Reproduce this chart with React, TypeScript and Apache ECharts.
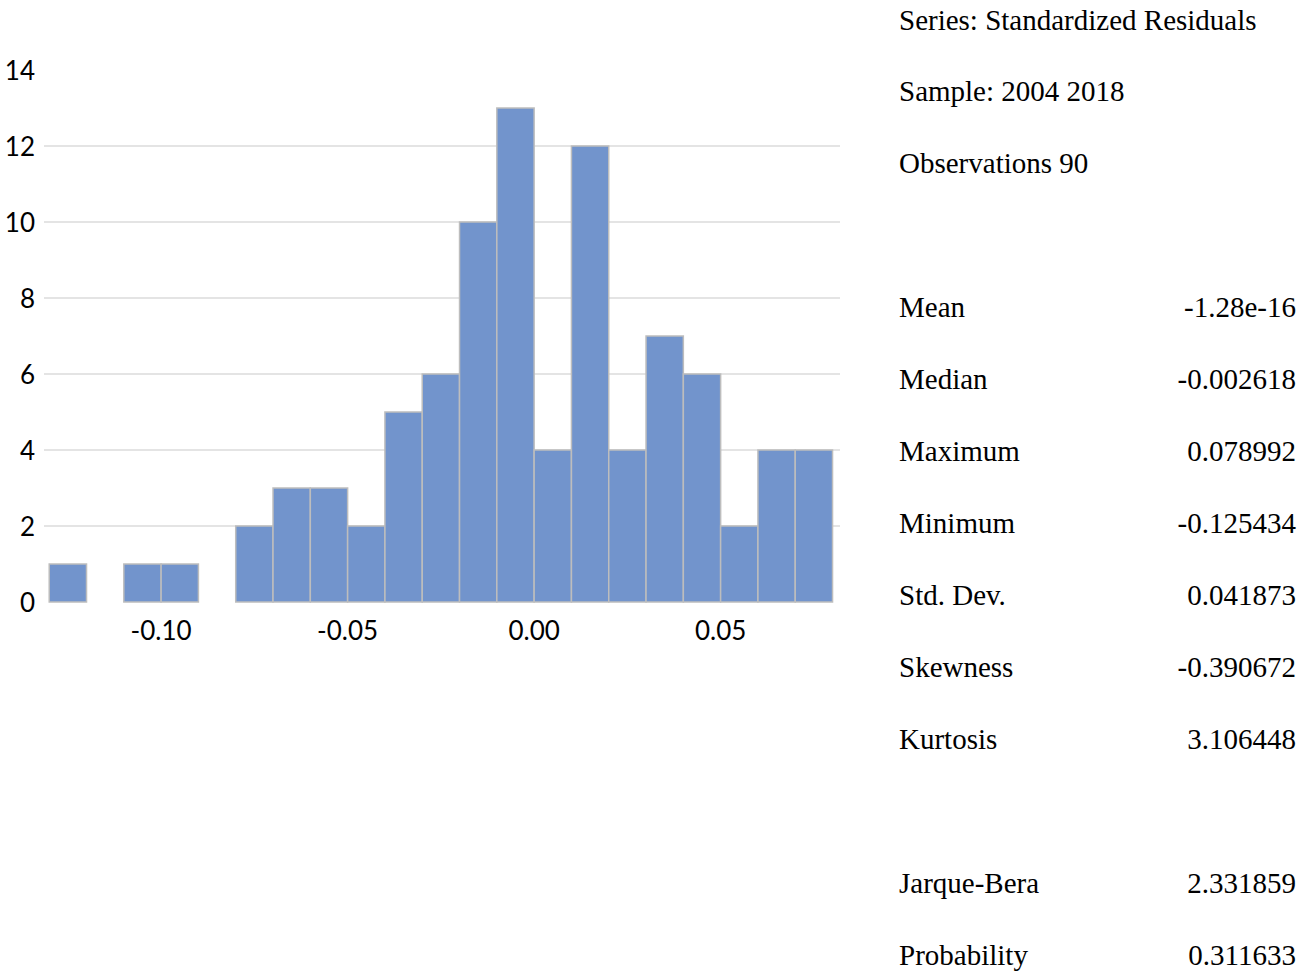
import React, { useEffect, useRef } from "react";
import * as echarts from "echarts";

const binStarts = [-0.13, -0.12, -0.11, -0.10, -0.09, -0.08, -0.07, -0.06, -0.05, -0.04, -0.03, -0.02, -0.01, 0.00, 0.01, 0.02, 0.03, 0.04, 0.05, 0.06, 0.07];
const binEnds = [-0.12, -0.11, -0.10, -0.09, -0.08, -0.07, -0.06, -0.05, -0.04, -0.03, -0.02, -0.01, 0.00, 0.01, 0.02, 0.03, 0.04, 0.05, 0.06, 0.07, 0.08];
const counts = [1, 0, 1, 1, 0, 2, 3, 3, 2, 5, 6, 10, 13, 4, 12, 4, 7, 6, 2, 4, 4];
const xTickValues = [-0.1, -0.05, 0, 0.05];

const headerLines = ["Series: Standardized Residuals", "Sample: 2004 2018", "Observations 90"];
const statLabels = ["Mean", "Median", "Maximum", "Minimum", "Std. Dev.", "Skewness", "Kurtosis"];
const statValues = ["-1.28e-16", "-0.002618", "0.078992", "-0.125434", "0.041873", "-0.390672", "3.106448"];
const testLabels = ["Jarque-Bera", "Probability"];
const testValues = ["2.331859", "0.311633"];

const serif = "'Liberation Serif', 'Times New Roman', serif";
const sans = "Lato, 'Liberation Sans', sans-serif";

export default function App() {
  const ref = useRef<HTMLDivElement>(null);
  useEffect(() => {
    document.body.style.margin = "0";
    const chart = echarts.init(ref.current!, null, { renderer: "svg" });
    const data = binStarts.map((s, i) => [s, binEnds[i], counts[i]]);

    const graphics: any[] = [];
    const textStyle = (text: string, x: number, y: number, align: string) => ({
      type: "text",
      x,
      y,
      style: {
        text,
        fill: "#000",
        font: `29px ${serif}`,
        textAlign: align,
        textVerticalAlign: "middle",
      },
    });
    const hY = [20, 91, 163];
    headerLines.forEach((t, i) => graphics.push(textStyle(t, 899, hY[i], "left")));
    const sY = [307, 379, 451, 523, 595, 667, 739];
    statLabels.forEach((t, i) => {
      graphics.push(textStyle(t, 899, sY[i], "left"));
      graphics.push(textStyle(statValues[i], 1296, sY[i], "right"));
    });
    const tY = [883, 955];
    testLabels.forEach((t, i) => {
      graphics.push(textStyle(t, 899, tY[i], "left"));
      graphics.push(textStyle(testValues[i], 1296, tY[i], "right"));
    });

    chart.setOption({
      animation: false,
      grid: { left: 44, right: 475, top: 70, bottom: 371, containLabel: false },
      xAxis: {
        type: "value",
        min: -0.1314,
        max: 0.082,
        axisLine: { show: false },
        axisTick: { show: false },
        splitLine: { show: false },
        axisLabel: {
          customValues: xTickValues,
          formatter: (v: number) => v.toFixed(2),
          fontFamily: sans,
          fontSize: 26,
          color: "#000",
          margin: 15,
        },
      },
      yAxis: {
        type: "value",
        min: 0,
        max: 14,
        interval: 2,
        axisLine: { show: false },
        axisTick: { show: false },
        splitLine: {
          show: true,
          showMinLine: false,
          showMaxLine: false,
          lineStyle: { color: "#E4E4E4", width: 2 },
        },
        axisLabel: {
          fontFamily: sans,
          fontSize: 26,
          color: "#000",
          margin: 9,
        },
      },
      series: [
        {
          type: "custom",
          data,
          encode: { x: [0, 1], y: 2 },
          renderItem: (params: any, api: any) => {
            const x0 = api.value(0);
            const x1 = api.value(1);
            const c = api.value(2);
            if (!c) return null;
            const p0 = api.coord([x0, c]);
            const p1 = api.coord([x1, 0]);
            return {
              type: "rect",
              shape: { x: p0[0], y: p0[1], width: p1[0] - p0[0], height: p1[1] - p0[1] },
              style: { fill: "#7294CC", stroke: "#BDBDBD", lineWidth: 1.5 },
            };
          },
        },
      ],
      graphic: graphics,
    });
    return () => chart.dispose();
  }, []);
  return <div ref={ref} style={{ width: 1315, height: 973 }} />;
}
